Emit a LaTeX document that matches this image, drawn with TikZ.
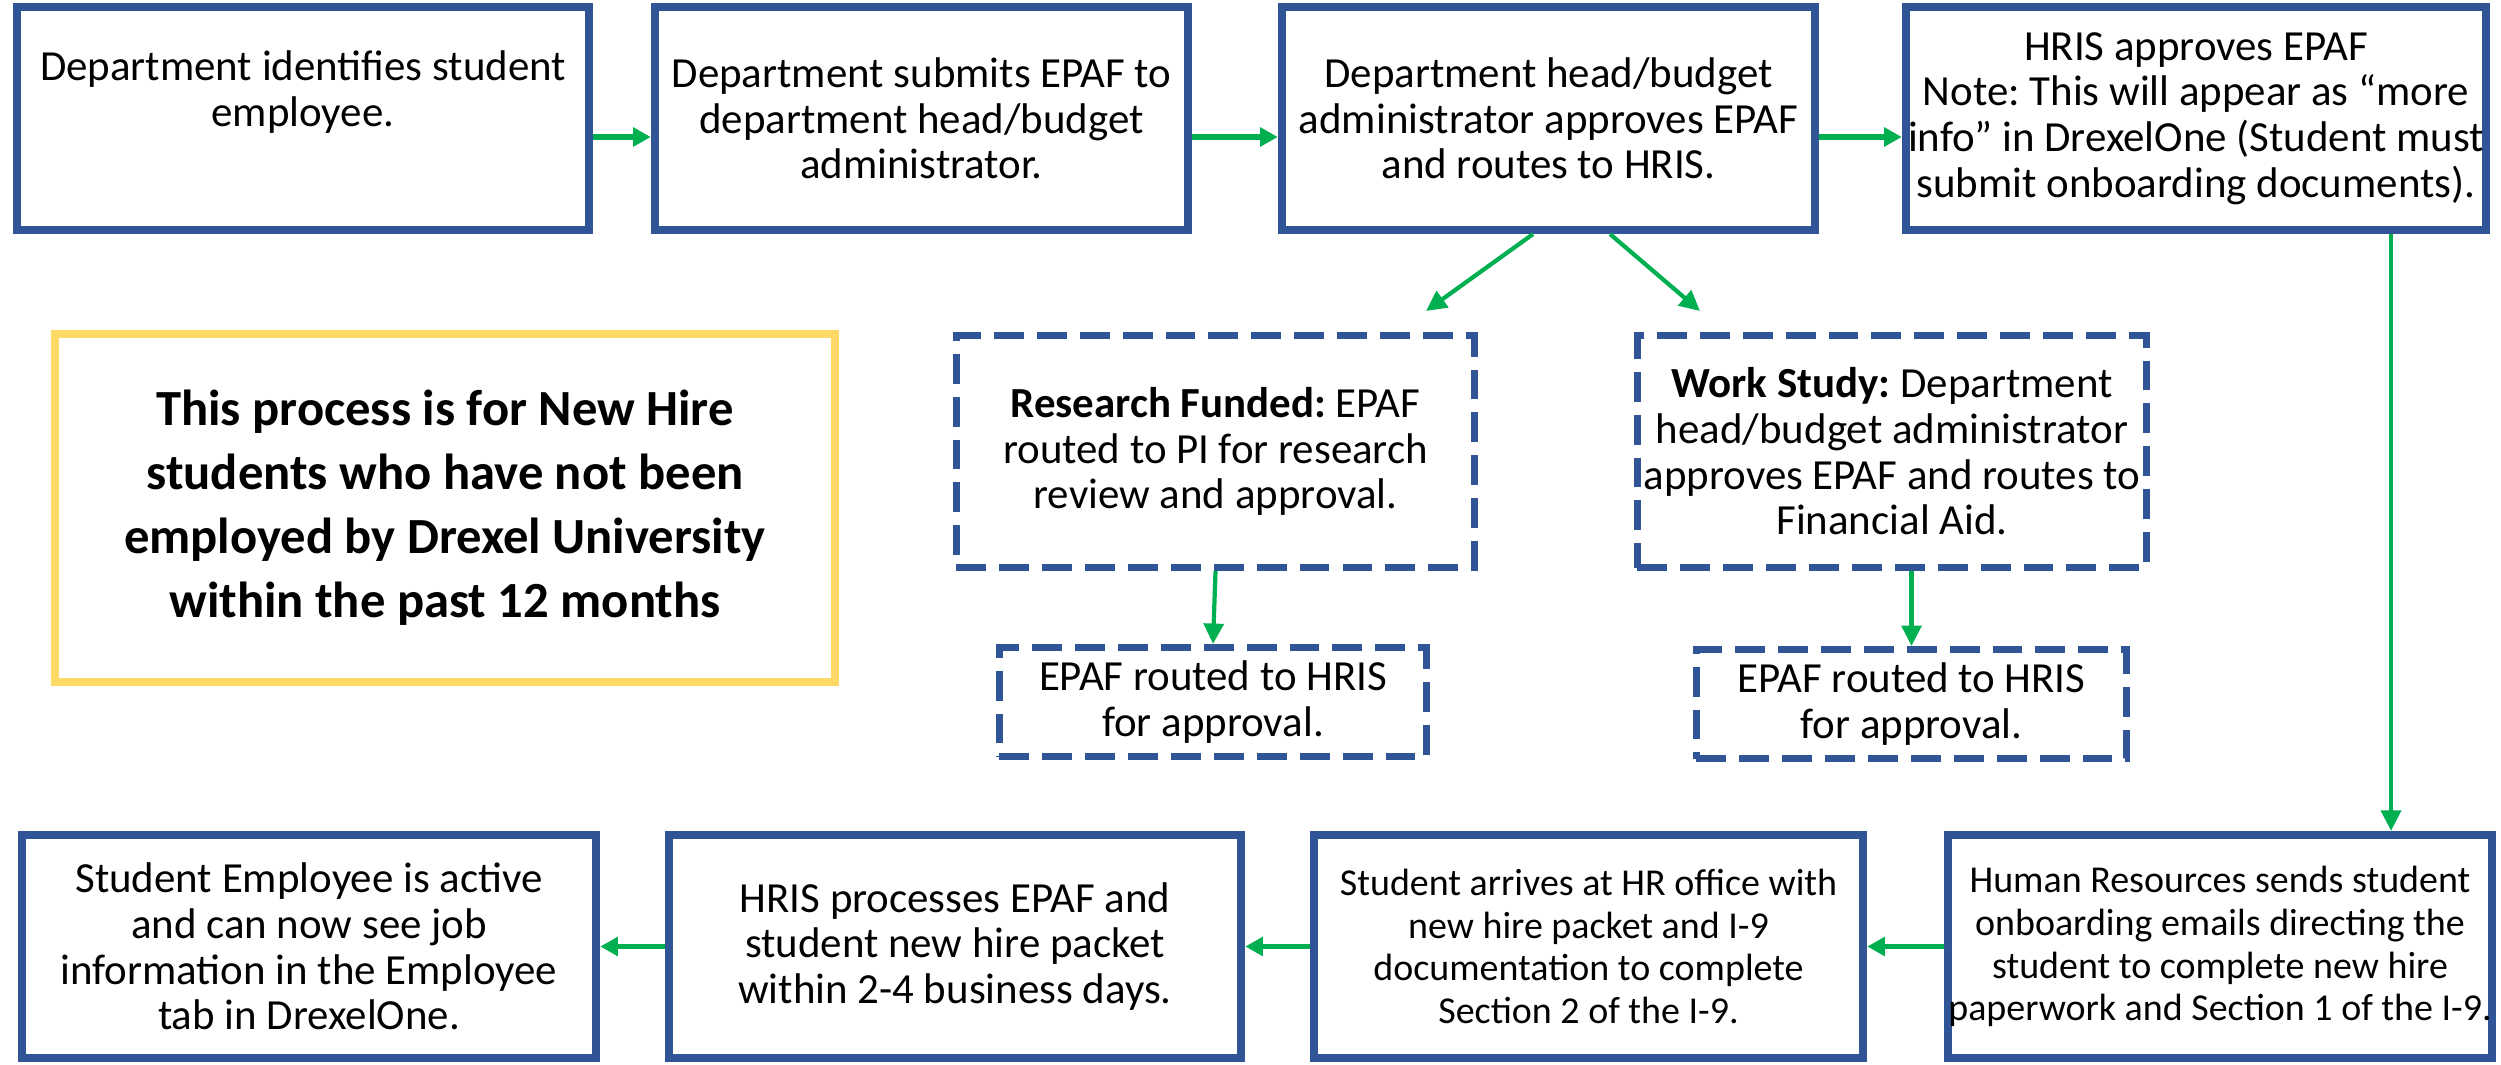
\documentclass[tikz,border=0pt]{standalone}
\usepackage{fontspec}
\setmainfont{Carlito}
\usetikzlibrary{arrows.meta}
\definecolor{boxblue}{HTML}{2F5597}
\definecolor{flowgreen}{HTML}{00B050}
\definecolor{noteyellow}{HTML}{FFD966}
\frenchspacing

\begin{document}
\begin{tikzpicture}[x=0.01cm,y=-0.01cm,
  stepbox/.style={draw=boxblue,line width=2.3pt,align=center,inner sep=0pt,
    font=\fontsize{12.2}{13}\selectfont},
  lowbox/.style={stepbox,font=\fontsize{10.8}{12.2}\selectfont},
  dashbox/.style={stepbox,line width=2pt,dash pattern=on 8.5pt off 3.7pt},
  flow/.style={draw=flowgreen,line width=1.5pt,-{Triangle[length=5pt,width=5.2pt]}},
  thinflow/.style={flow,line width=1.2pt,-{Triangle[length=5.8pt,width=5.6pt]}}]
  \useasboundingbox (0,0) rectangle (2501,1065);
  % top row
  \node[stepbox,minimum width=5.72cm,minimum height=2.23cm] (identify) at (303,118.5)
    {Department identifies student\\employee.\\\strut};
  \node[stepbox,minimum width=5.33cm,minimum height=2.23cm] (submit) at (921.5,118.5)
    {Department submits EPAF to\\department head/budget\\administrator.};
  \node[stepbox,minimum width=5.33cm,minimum height=2.23cm] (headok) at (1548.5,118.5)
    {Department head/budget\\administrator approves EPAF\\and routes to HRIS.};
  \node[stepbox,minimum width=5.80cm,minimum height=2.23cm] (hrisok) at (2196,118.5)
    {HRIS approves EPAF\\Note: This will appear as “more\\info” in DrexelOne (Student must\\submit onboarding documents).};
  % note
  \node[draw=noteyellow,line width=2.3pt,align=center,inner sep=0pt,
    minimum width=7.80cm,minimum height=3.48cm,
    font=\fontsize{14.4}{18.2}\selectfont\bfseries] (note) at (445,508)
    {This process is for New Hire\\students who have not been\\employed by Drexel University\\within the past 12 months};
  % branches
  \node[dashbox,minimum width=5.18cm,minimum height=2.32cm] (research) at (1215.5,451.5)
    {\textbf{Research Funded:} EPAF\\routed to PI for research\\review and approval.};
  \node[dashbox,minimum width=5.09cm,minimum height=2.32cm] (workstudy) at (1892,451.5)
    {\textbf{Work Study:} Department\\head/budget administrator\\approves EPAF and routes to\\Financial Aid.};
  \node[dashbox,minimum width=4.27cm,minimum height=1.09cm] (routeA) at (1213,702)
    {EPAF routed to HRIS\\for approval.};
  \node[dashbox,minimum width=4.30cm,minimum height=1.09cm] (routeB) at (1911.5,704)
    {EPAF routed to HRIS\\for approval.};
  % bottom row
  \node[stepbox,minimum width=5.74cm,minimum height=2.23cm] (active) at (309,946.5)
    {Student Employee is active\\and can now see job\\information in the Employee\\tab in DrexelOne.};
  \node[stepbox,minimum width=5.72cm,minimum height=2.23cm] (process) at (955,946.5)
    {HRIS processes EPAF and\\student new hire packet\\within 2-4 business days.};
  \node[lowbox,minimum width=5.49cm,minimum height=2.23cm] (arrive) at (1588.5,946.5)
    {Student arrives at HR office with\\new hire packet and I-9\\documentation to complete\\Section 2 of the I-9.};
  \node[lowbox,minimum width=5.38cm,minimum height=2.23cm] (emails) at (2220,946.5)
    {Human Resources sends student\\onboarding emails directing the\\student to complete new hire\\paperwork and Section 1 of the I-9.};
  \coordinate (leftend) at (1426,311);
  \coordinate (rightend) at (1700,311);
  \coordinate (drop) at (2391,0);
  % connectors
  \draw[flow] ([yshift=-0.185cm]identify.east) -- ([yshift=-0.185cm]submit.west);
  \draw[flow] ([yshift=-0.185cm]submit.east) -- ([yshift=-0.185cm]headok.west);
  \draw[flow] ([yshift=-0.185cm]headok.east) -- ([yshift=-0.185cm]hrisok.west);
  \draw[thinflow] ([xshift=-0.155cm]headok.south) -- (leftend);
  \draw[thinflow] ([xshift=0.615cm]headok.south) -- (rightend);
  \draw[thinflow] (research.south) -- (routeA.north);
  \draw[thinflow] (routeB.north |- workstudy.south) -- (routeB.north);
  \draw[thinflow] (hrisok.south -| drop) -- (emails.north -| drop);
  \draw[flow] (emails.west) -- (arrive.east);
  \draw[flow] (arrive.west) -- (process.east);
  \draw[flow] (process.west) -- (active.east);
\end{tikzpicture}
\end{document}
